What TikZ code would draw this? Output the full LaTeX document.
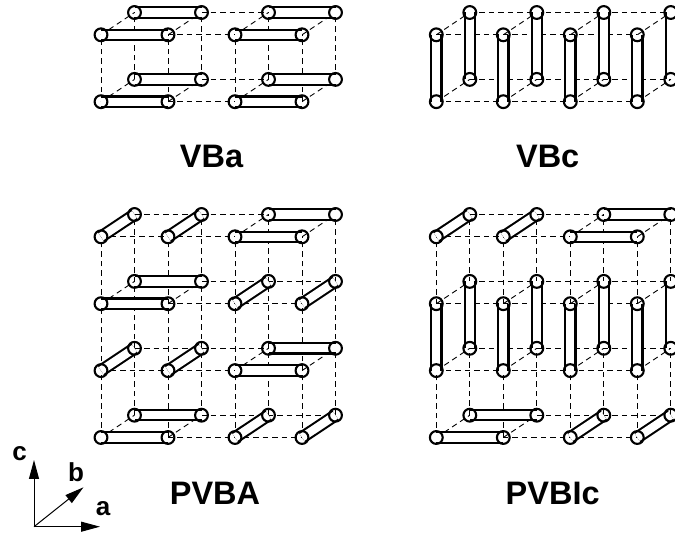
\documentclass[tikz,border=0pt]{standalone}
\usepackage{fontspec}
\setmainfont{Liberation Sans}
\usetikzlibrary{arrows.meta,backgrounds}
\tikzset{
  site/.style={draw,circle,line width=2.1pt,minimum size=12.8pt,inner sep=0pt},
  cell/.style={line width=0.9pt,dash pattern=on 5.5pt off 4pt},
  bond/.style={line width=2.1pt,double=white,double distance=8.3pt},
  axis/.style={line width=1pt,-{Triangle[length=19pt,width=10pt]}},
  title/.style={font=\fontsize{32.5}{32.5}\selectfont\bfseries,inner sep=0pt},
  axlabel/.style={font=\fontsize{26}{26}\selectfont\bfseries,inner sep=0pt}
}
\newcommand{\lattice}[4]{
  \foreach \k in {0,...,#4}{\foreach \j in {0,1}{\foreach \i in {0,...,3}{
    \node[site](#1-\i-\j-\k)at({#2+67*\i+33.5*\j},{#3-66.9*\k-22.3*\j}){};
  }}}
  \begin{scope}[on background layer]
    \foreach \j in {0,1}{\foreach \k in {0,...,#4}{\draw[cell](#1-0-\j-\k.center)--(#1-3-\j-\k.center);}}
    \foreach \j in {0,1}{\foreach \i in {0,...,3}{\draw[cell](#1-\i-\j-0.center)--(#1-\i-\j-#4.center);}}
    \foreach \i in {0,...,3}{\foreach \k in {0,...,#4}{\draw[cell](#1-\i-0-\k.center)--(#1-\i-1-\k.center);}}
  \end{scope}
}
% bonds of one cell edge: lattice, site index, layer
\newcommand{\bonda}[3]{
  \begin{scope}[on background layer]
    \pgfmathtruncatemacro{\inext}{#2+1}
    \foreach \j in {1,0}{\draw[bond](#1-#2-\j-#3.center)--(#1-\inext-\j-#3.center);}
  \end{scope}
}
\newcommand{\bondb}[3]{
  \begin{scope}[on background layer]
    \draw[bond](#1-#2-0-#3.center)--(#1-#2-1-#3.center);
  \end{scope}
}
\newcommand{\bondc}[3]{
  \begin{scope}[on background layer]
    \pgfmathtruncatemacro{\knext}{#3+1}
    \foreach \j in {1,0}{\draw[bond](#1-#2-\j-#3.center)--(#1-#2-\j-\knext.center);}
  \end{scope}
}
\begin{document}
\begin{tikzpicture}[x=1pt,y=-1pt]
\useasboundingbox(0,0)rectangle(675,534);
\lattice{vba}{101}{101.7}{1}
\lattice{vbc}{436.3}{101.7}{1}
\lattice{pvba}{101}{437.5}{3}
\lattice{pvbic}{436.3}{437.5}{3}
\foreach \k in {0,1}{\foreach \i in {0,2}{\bonda{vba}{\i}{\k}}}
\foreach \i in {0,...,3}{\bondc{vbc}{\i}{0}}
% PVBA layers alternate
\foreach \k in {0,2}{
  \bonda{pvba}{0}{\k}
  \foreach \i in {2,3}{\bondb{pvba}{\i}{\k}}
}
\foreach \k in {1,3}{
  \bonda{pvba}{2}{\k}
  \foreach \i in {0,1}{\bondb{pvba}{\i}{\k}}
}
% PVBIc
\bonda{pvbic}{0}{0}
\foreach \i in {2,3}{\bondb{pvbic}{\i}{0}}
\foreach \i in {0,...,3}{\bondc{pvbic}{\i}{1}}
\bonda{pvbic}{2}{3}
\foreach \i in {0,1}{\bondb{pvbic}{\i}{3}}
% titles
\node[title](vbatitle)at(211.5,156.5){VBa};
\node[title](vbctitle)at(547.7,156.5){VBc};
\node[title](pvbatitle)at(215,493){PVBA};
\node[title](pvbictitle)at(552.7,493){PVBIc};
% axes
\coordinate(origin)at(34,526.7);
\coordinate(atip)at(100,526.7);
\coordinate(btip)at(83.5,487.3);
\coordinate(ctip)at(34,460);
\draw[axis](origin)--(atip);
\draw[axis](origin)--(btip);
\draw[axis](origin)--(ctip);
\node[axlabel](alabel)at(103,508.5){a};
\node[axlabel](blabel)at(76,472){b};
\node[axlabel](clabel)at(19.5,453.5){c};
\end{tikzpicture}
\end{document}
